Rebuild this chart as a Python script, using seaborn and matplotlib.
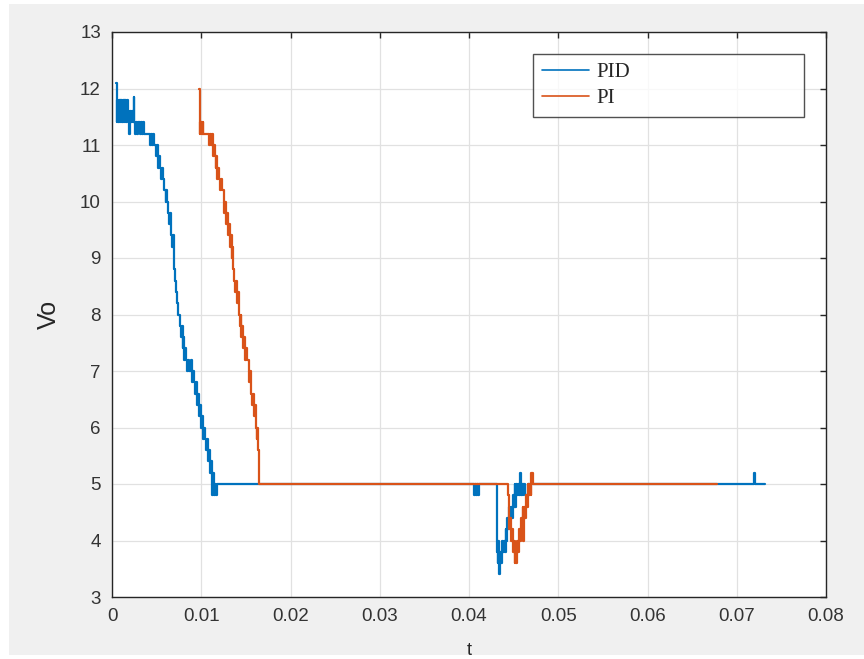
import matplotlib
matplotlib.use("Agg")
import matplotlib.pyplot as plt
import pandas as pd
import seaborn as sns
from matplotlib.patches import Rectangle

# PID response, sampled as step values (value holds until next time)
pid_t = [0.00050, 0.00055, 0.00060, 0.00070, 0.00075, 0.00085, 0.00090, 0.00100, 0.00105, 0.00115,
         0.00120, 0.00130, 0.00135, 0.00145, 0.00150, 0.00160, 0.00168, 0.00180, 0.00190, 0.00200,
         0.00210, 0.00225, 0.00235, 0.00245, 0.00250, 0.00260, 0.00270, 0.00285, 0.00295, 0.00310,
         0.00320, 0.00335, 0.00345, 0.00355, 0.00430, 0.00440, 0.00450, 0.00460, 0.00470, 0.00490,
         0.00500, 0.00510, 0.00520, 0.00530, 0.00540, 0.00550, 0.00560, 0.00570, 0.00580, 0.00600,
         0.00610, 0.00620, 0.00630, 0.00640, 0.00650, 0.00660, 0.00670, 0.00680, 0.00690, 0.00700,
         0.00710, 0.00720, 0.00730, 0.00745, 0.00760, 0.00770, 0.00780, 0.00790, 0.00800, 0.00810,
         0.00820, 0.00830, 0.00840, 0.00855, 0.00865, 0.00880, 0.00890, 0.00900, 0.00910, 0.00920,
         0.00935, 0.00945, 0.00955, 0.00965, 0.00975, 0.00985, 0.00995, 0.01010, 0.01020, 0.01035,
         0.01045, 0.01055, 0.01065, 0.01075, 0.01085, 0.01095, 0.01105, 0.01115, 0.01125, 0.01135,
         0.01145, 0.01155, 0.01165, 0.01175, 0.04060, 0.04070, 0.04080, 0.04090, 0.04100, 0.04110,
         0.04310, 0.04320, 0.04330, 0.04340, 0.04350, 0.04360, 0.04370, 0.04380, 0.04390, 0.04400,
         0.04410, 0.04420, 0.04430, 0.04440, 0.04450, 0.04460, 0.04470, 0.04480, 0.04490, 0.04500,
         0.04510, 0.04520, 0.04530, 0.04540, 0.04550, 0.04560, 0.04570, 0.04580, 0.04590, 0.04600,
         0.04610, 0.04630, 0.04660, 0.07190, 0.07200, 0.07320]
pid_v = [12.1, 11.4, 11.8, 11.4, 11.8, 11.4, 11.8, 11.4, 11.8, 11.4,
         11.8, 11.4, 11.8, 11.4, 11.8, 11.4, 11.8, 11.6, 11.2, 11.6,
         11.4, 11.6, 11.4, 11.85, 11.4, 11.2, 11.4, 11.2, 11.4, 11.2,
         11.4, 11.2, 11.4, 11.2, 11.0, 11.2, 11.0, 11.2, 11.0, 10.8,
         11.0, 10.8, 10.6, 10.8, 10.6, 10.4, 10.6, 10.4, 10.2, 10.0,
         10.2, 10.0, 9.8, 9.6, 9.8, 9.4, 9.2, 9.4, 9.0, 8.8,
         8.6, 8.4, 8.2, 8.0, 7.8, 7.6, 7.8, 7.4, 7.6, 7.2,
         7.4, 7.2, 7.0, 7.2, 7.0, 7.0, 7.2, 6.8, 7.0, 6.8,
         6.6, 6.8, 6.4, 6.6, 6.2, 6.4, 6.0, 6.2, 5.8, 6.0,
         5.8, 5.6, 5.8, 5.4, 5.6, 5.2, 5.4, 5.0, 4.8, 5.2,
         4.8, 5.0, 4.8, 5.0, 4.8, 5.0, 4.8, 5.0, 4.8, 5.0,
         3.8, 3.6, 4.0, 3.4, 3.8, 3.6, 4.0, 3.8, 4.0, 3.8,
         4.2, 4.0, 4.4, 4.2, 4.6, 4.4, 4.6, 4.4, 4.8, 4.6,
         5.0, 4.6, 5.0, 4.8, 5.0, 4.8, 5.2, 4.8, 5.0, 4.8,
         5.0, 4.8, 5.0, 5.2, 5.0, 5.0]

# PI response
pi_t = [0.00980, 0.00985, 0.00990, 0.00995, 0.01000, 0.01010, 0.01015, 0.01025, 0.01090, 0.01100,
        0.01110, 0.01120, 0.01130, 0.01140, 0.01150, 0.01160, 0.01170, 0.01180, 0.01190, 0.01200,
        0.01210, 0.01220, 0.01230, 0.01250, 0.01260, 0.01270, 0.01280, 0.01290, 0.01300, 0.01310,
        0.01320, 0.01330, 0.01340, 0.01350, 0.01360, 0.01370, 0.01380, 0.01390, 0.01400, 0.01410,
        0.01420, 0.01430, 0.01440, 0.01450, 0.01460, 0.01470, 0.01480, 0.01490, 0.01500, 0.01510,
        0.01530, 0.01540, 0.01550, 0.01560, 0.01570, 0.01580, 0.01590, 0.01600, 0.01610, 0.01620,
        0.01630, 0.01640, 0.01650, 0.04436, 0.04450, 0.04460, 0.04470, 0.04480, 0.04490, 0.04500,
        0.04510, 0.04520, 0.04530, 0.04540, 0.04550, 0.04560, 0.04570, 0.04580, 0.04590, 0.04600,
        0.04610, 0.04620, 0.04630, 0.04640, 0.04650, 0.04660, 0.04670, 0.04680, 0.04690, 0.04700,
        0.04720, 0.06780]
pi_v = [12.0, 11.2, 11.4, 11.2, 11.4, 11.2, 11.4, 11.2, 11.0, 11.2,
        11.0, 11.2, 10.8, 11.0, 10.8, 10.6, 10.8, 10.4, 10.6, 10.4,
        10.2, 10.4, 10.2, 10.0, 9.8, 10.0, 9.6, 9.8, 9.4, 9.6,
        9.2, 9.4, 9.0, 9.2, 8.8, 8.6, 8.4, 8.6, 8.2, 8.4,
        8.0, 7.8, 8.0, 7.6, 7.8, 7.4, 7.6, 7.2, 7.4, 7.2,
        7.0, 6.8, 7.0, 6.6, 6.4, 6.6, 6.2, 6.4, 6.0, 5.8,
        6.0, 5.6, 5.0, 4.8, 4.2, 4.4, 4.0, 4.2, 3.8, 4.0,
        3.6, 3.8, 3.6, 4.0, 3.8, 4.2, 4.0, 4.4, 4.2, 4.6,
        4.0, 4.6, 4.4, 4.8, 4.6, 5.0, 4.8, 5.0, 4.8, 5.2,
        5.0, 5.0]

series_names = ["PID", "PI"]
series_colors = ["#0072BD", "#D95319"]

x_ticks = [0, 0.01, 0.02, 0.03, 0.04, 0.05, 0.06, 0.07, 0.08]
x_tick_labels = ["0", "0.01", "0.02", "0.03", "0.04", "0.05", "0.06", "0.07", "0.08"]
y_ticks = list(range(3, 14))

sns.set_theme(style="white")
plt.rcParams["font.family"] = ["Liberation Sans", "DejaVu Sans"]

fig = plt.figure(figsize=(8.64, 6.59), dpi=100, facecolor="white")
# grey window background like the MATLAB figure
fig.patches.append(Rectangle((9 / 864, 4 / 659), 1, 651 / 659, transform=fig.transFigure,
                             facecolor="#f0f0f0", edgecolor="none", zorder=-10))
ax = fig.add_axes([112 / 864, 62 / 659, 714 / 864, 565 / 659])
ax.set_facecolor("white")

frames = {
    "PID": pd.DataFrame({"t": pid_t, "Vo": pid_v}),
    "PI": pd.DataFrame({"t": pi_t, "Vo": pi_v}),
}
for name, col in zip(series_names, series_colors):
    sns.lineplot(data=frames[name], x="t", y="Vo", ax=ax, sort=False, estimator=None,
                 drawstyle="steps-post", color=col, linewidth=1.6, label=name)

ax.set_xlim(0, 0.08)
ax.set_ylim(3, 13)
ax.set_xticks(x_ticks)
ax.set_xticklabels(x_tick_labels)
ax.set_yticks(y_ticks)
ax.grid(True, color="#e1e1e1", linewidth=0.9)
ax.set_axisbelow(True)
for sp in ax.spines.values():
    sp.set_color("#262626")
    sp.set_linewidth(1.0)
ax.tick_params(direction="in", length=4, width=1, color="#262626", top=True, right=True,
               labelsize=13.5, labelcolor="#333333", pad=8)

ax.set_ylabel("Vo", fontsize=18, color="#262626", labelpad=14)
ax.set_xlabel("t", fontsize=13, color="#262626", labelpad=12)

leg = ax.legend(loc="upper left", bbox_to_anchor=(0.5896, 0.853, 0.3796, 0.108), mode="expand",
                frameon=True, fancybox=False, handlelength=2.25, handletextpad=0.35,
                labelspacing=0.3, borderpad=0.42, borderaxespad=0,
                prop={"family": "Liberation Serif", "size": 15})
leg.get_frame().set_edgecolor("#262626")
leg.get_frame().set_linewidth(1.0)
for line in leg.get_lines():
    line.set_linewidth(1.2)

fig.savefig("out.png", dpi=100, facecolor=fig.get_facecolor())
